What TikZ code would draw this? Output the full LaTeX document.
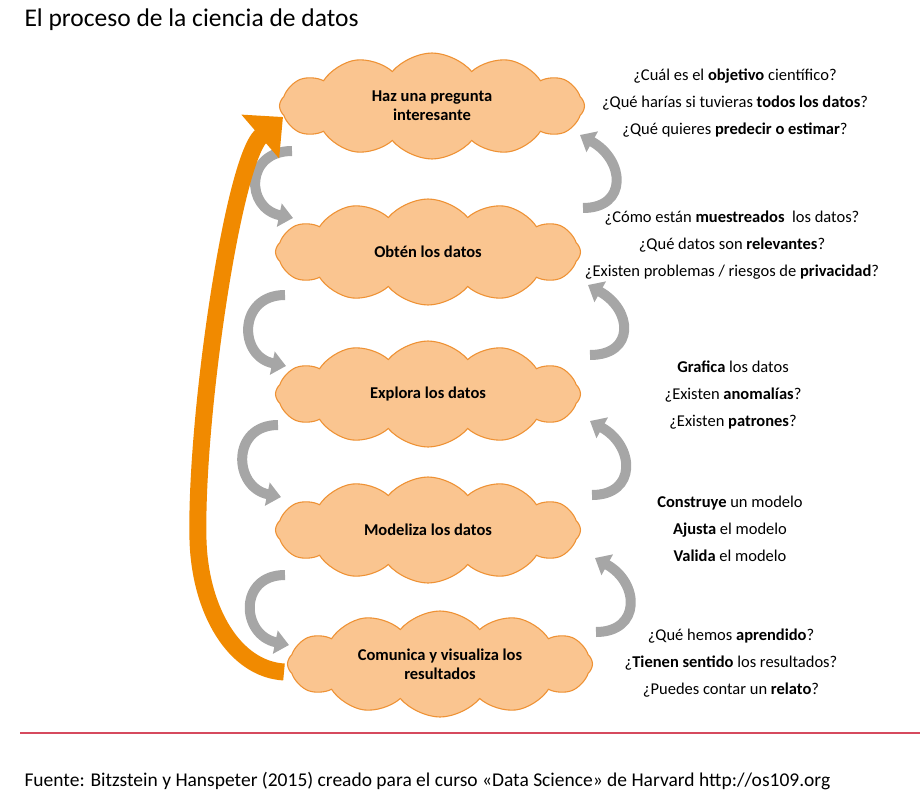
\documentclass[tikz,border=0pt]{standalone}
\usepackage{fontspec}
\setmainfont{Carlito}
\usetikzlibrary{shapes.symbols,arrows.meta}
\definecolor{cloudfill}{HTML}{FAC590}
\definecolor{cloudline}{HTML}{EE9235}
\definecolor{turngray}{HTML}{A6A6A6}
\definecolor{backorange}{HTML}{F18A00}
\definecolor{rulered}{HTML}{D64A5E}

\begin{document}
\begin{tikzpicture}[x=1pt,y=-1pt,
  stage/.style={cloud, cloud puffs=12, cloud puff arc=100, aspect=3,
    draw=cloudline, fill=cloudfill, line width=1.1pt,
    minimum width=305pt, minimum height=106pt, inner sep=0pt,
    align=center, font=\bfseries\fontsize{16.5}{19}\selectfont},
  hint/.style={align=center, font=\fontsize{16.5}{27}\selectfont},
  turn/.style={turngray, line width=10pt, -{Triangle[width=23pt,length=14pt]}},
  back/.style={backorange, line width=17pt, -{Triangle[width=56pt,length=30pt]}}]
    \useasboundingbox (0,0) rectangle (920,797);

    % title
    \node[anchor=west, font=\fontsize{25.5}{28}\selectfont] (title) at (21,20)
        {El proceso de la ciencia de datos};

    % the five stages
    \node[stage] (c1) at (432,106) {Haz una pregunta\\interesante};
    \node[stage] (c2) at (428,252) {Obtén los datos};
    \node[stage] (c3) at (428,394) {Explora los datos};
    \node[stage] (c4) at (428,530) {Modeliza los datos};
    \node[stage] (c5) at (440,664) {Comunica y visualiza los\\resultados};

    % questions
    \node[hint] (q1) at (735,103) {¿Cuál es el \textbf{objetivo} científico?\\
        ¿Qué harías si tuvieras \textbf{todos los datos}?\\
        ¿Qué quieres \textbf{predecir o estimar}?};
    \node[hint] (q2) at (732,245) {¿Cómo están \textbf{muestreados}\ \ los datos?\\
        ¿Qué datos son \textbf{relevantes}?\\
        ¿Existen problemas / riesgos de \textbf{privacidad}?};
    \node[hint] (q3) at (733,395) {\textbf{Grafica} los datos\\
        ¿Existen \textbf{anomalías}?\\
        ¿Existen \textbf{patrones}?};
    \node[hint] (q4) at (730,529) {\textbf{Construye} un modelo\\
        \textbf{Ajusta}\ el modelo\\
        \textbf{Valida} el modelo};
    \node[hint] (q5) at (731,663) {¿Qué hemos \textbf{aprendido}?\\
        ¿\textbf{Tienen sentido} los resultados?\\
        ¿Puedes contar un \textbf{relato}?};

    % forward loops (left)
    \draw[turn] ([shift={(-140,45)}]c1.center) .. controls +(-47,0) and +(-48,-10) .. ([shift={(-135,-34)}]c2.center);
    \draw[turn] ([shift={(-143,43)}]c2.center) .. controls +(-47,0) and +(-48,-10) .. ([shift={(-142,-28)}]c3.center);
    \draw[turn] ([shift={(-150,31)}]c3.center) .. controls +(-47,0) and +(-48,-10) .. ([shift={(-147,-33)}]c4.center);
    \draw[turn] ([shift={(-143,45)}]c4.center) .. controls +(-47,0) and +(-48,-10) .. ([shift={(-151,-19)}]c5.center);

    % backward loops (right)
    \draw[turn] ([shift={(155,-44)}]c2.center) .. controls +(45,0) and +(45,25) .. ([shift={(148,29)}]c1.center);
    \draw[turn] ([shift={(162,-39)}]c3.center) .. controls +(45,0) and +(45,25) .. ([shift={(160,33)}]c2.center);
    \draw[turn] ([shift={(164,-35)}]c4.center) .. controls +(45,0) and +(45,25) .. ([shift={(162,27)}]c3.center);
    \draw[turn] ([shift={(156,-32)}]c5.center) .. controls +(45,0) and +(45,25) .. ([shift={(167,28)}]c4.center);

    % back to the start
    \draw[back] ([shift={(-156,8)}]c5.center) .. controls +(-50,-3) and +(2,70) .. ([shift={(-230,10)}]c4.center)
        .. controls +(-3,-120) and +(-50,43) .. ([shift={(-149,11)}]c1.center);

    % source
    \draw[rulered, line width=1.5pt] (20,733) coordinate (r1) -- (920,733) coordinate (r2);
    \node[anchor=west, font=\fontsize{19.5}{22}\selectfont] (src) at (21,781)
        {Fuente: Bitzstein y Hanspeter (2015) creado para el curso «Data Science» de Harvard http://os109.org};
\end{tikzpicture}
\end{document}
